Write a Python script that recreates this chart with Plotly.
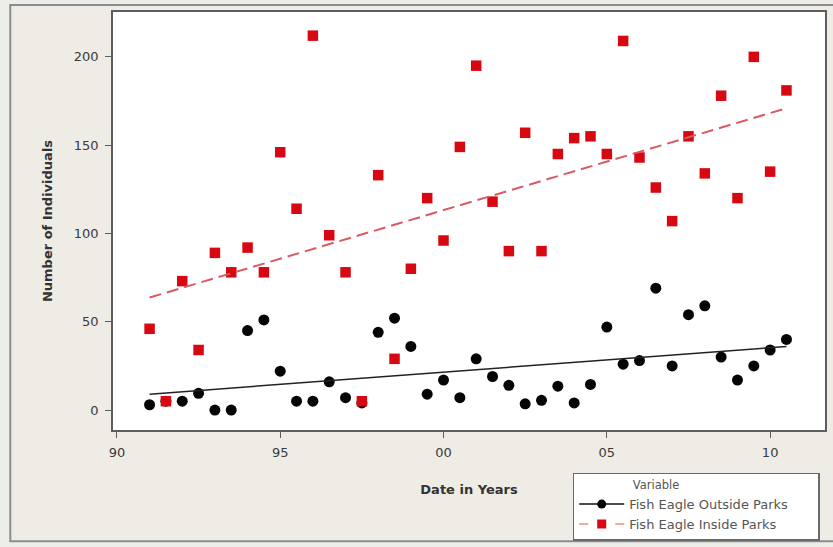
import numpy as np
import plotly.graph_objects as go

# survey dates (years since 1900, half-year steps)
years = [91.0, 91.5, 92.0, 92.5, 93.0, 93.5, 94.0, 94.5, 95.0, 95.5,
         96.0, 96.5, 97.0, 97.5, 98.0, 98.5, 99.0, 99.5, 100.0, 100.5,
         101.0, 101.5, 102.0, 102.5, 103.0, 103.5, 104.0, 104.5, 105.0, 105.5,
         106.0, 106.5, 107.0, 107.5, 108.0, 108.5, 109.0, 109.5, 110.0, 110.5]

outside_parks = [3, 5, 5, 9.5, 0, 0, 45, 51, 22, 5,
                 5, 16, 7, 4, 44, 52, 36, 9, 17, 7,
                 29, 19, 14, 3.5, 5.5, 13.5, 4, 14.5, 47, 26,
                 28, 69, 25, 54, 59, 30, 17, 25, 34, 40]

inside_parks = [46, 5, 73, 34, 89, 78, 92, 78, 146, 114,
                212, 99, 78, 5, 133, 29, 80, 120, 96, 149,
                195, 118, 90, 157, 90, 145, 154, 155, 145, 209,
                143, 126, 107, 155, 134, 178, 120, 200, 135, 181]

x_tickvals = [90, 95, 100, 105, 110]
x_ticktext = ["90", "95", "00", "05", "10"]
y_tickvals = [0, 50, 100, 150, 200]

# plot-area geometry in pixels (used to place frame shapes / legend)
W, H = 833, 547
L, R, T, B = 113, 827, 12, 433


def px_x(p):
    return (p - L) / (R - L)


def px_y(p):
    return (B - p) / (B - T)


def fit_line(x, y):
    slope, icpt = np.polyfit(x, y, 1)
    xs = np.array([min(x), max(x)])
    return xs, slope * xs + icpt


fig = go.Figure()

fig.add_trace(go.Scatter(
    x=years, y=outside_parks, mode="markers", showlegend=False,
    marker=dict(symbol="circle", size=11, color="#050505"),
))
fig.add_trace(go.Scatter(
    x=years, y=inside_parks, mode="markers", showlegend=False,
    marker=dict(symbol="square", size=10.5, color="#D80812"),
))

fx, fy = fit_line(years, outside_parks)
fig.add_trace(go.Scatter(x=fx, y=fy, mode="lines", showlegend=False,
                         line=dict(color="#222222", width=1.5)))
fx, fy = fit_line(years, inside_parks)
fig.add_trace(go.Scatter(x=fx, y=fy, mode="lines", showlegend=False,
                         line=dict(color="#D85A62", width=2, dash="12px,6px")))

# legend entries (trailing spaces widen the box like the original)
pad = "&nbsp;" * 6
fig.add_trace(go.Scatter(
    x=[None], y=[None], mode="lines+markers",
    name="Fish Eagle Outside Parks" + pad,
    line=dict(color="#111111", width=1.5),
    marker=dict(symbol="circle", size=9, color="#050505"),
))
fig.add_trace(go.Scatter(
    x=[None], y=[None], mode="lines+markers",
    name="Fish Eagle Inside Parks" + pad,
    line=dict(color="#F08C8C", width=1.5, dash="dash"),
    marker=dict(symbol="square", size=9, color="#D80812"),
))

shapes = [
    # outer beige frame
    dict(type="rect", xref="paper", yref="paper", layer="below",
         x0=px_x(10), x1=px_x(845), y0=px_y(545), y1=px_y(5),
         fillcolor="#EFECE5", line=dict(color="#8C8C8C", width=2)),
    # white plot area
    dict(type="rect", xref="paper", yref="paper", layer="below",
         x0=0, x1=1, y0=0, y1=1, fillcolor="white", line=dict(width=0)),
]

axis_common = dict(
    showgrid=False, zeroline=False, showline=True, mirror=True,
    linecolor="#5E5E5E", linewidth=1.5,
    ticks="outside", ticklen=6, tickcolor="#5E5E5E", tickwidth=1.2,
    ticklabelstandoff=4,
    tickfont=dict(family="DejaVu Sans", size=13, color="#3A3A3A"),
)

fig.update_layout(
    width=W, height=H,
    margin=dict(l=L, r=W - R, t=T, b=H - B),
    paper_bgcolor="#EDEDEA",
    plot_bgcolor="white",
    shapes=shapes,
    xaxis=dict(
        range=[89.88, 111.68], tickvals=x_tickvals, ticktext=x_ticktext,
        title=dict(text="<b>Date in Years</b>", standoff=26,
                   font=dict(family="DejaVu Sans", size=13, color="#333333")),
        **axis_common,
    ),
    yaxis=dict(
        range=[-11.3, 225.4], tickvals=y_tickvals,
        title=dict(text="<b>Number of Individuals</b>", standoff=18,
                   font=dict(family="DejaVu Sans", size=13, color="#333333")),
        **axis_common,
    ),
    legend=dict(
        x=px_x(574), y=px_y(476), xanchor="left", yanchor="top",
        bgcolor="white", bordercolor="#6A6A6A", borderwidth=1.5,
        title=dict(text="Variable" + "&nbsp;" * 22, side="top center",
                   font=dict(family="DejaVu Sans", size=11.5, color="#555555")),
        font=dict(family="DejaVu Sans", size=13, color="#555555"),
        itemwidth=45, tracegroupgap=0,
    ),
)

fig.write_html("out.html", config={"displayModeBar": False},
               post_script="document.body.style.margin='0';")
